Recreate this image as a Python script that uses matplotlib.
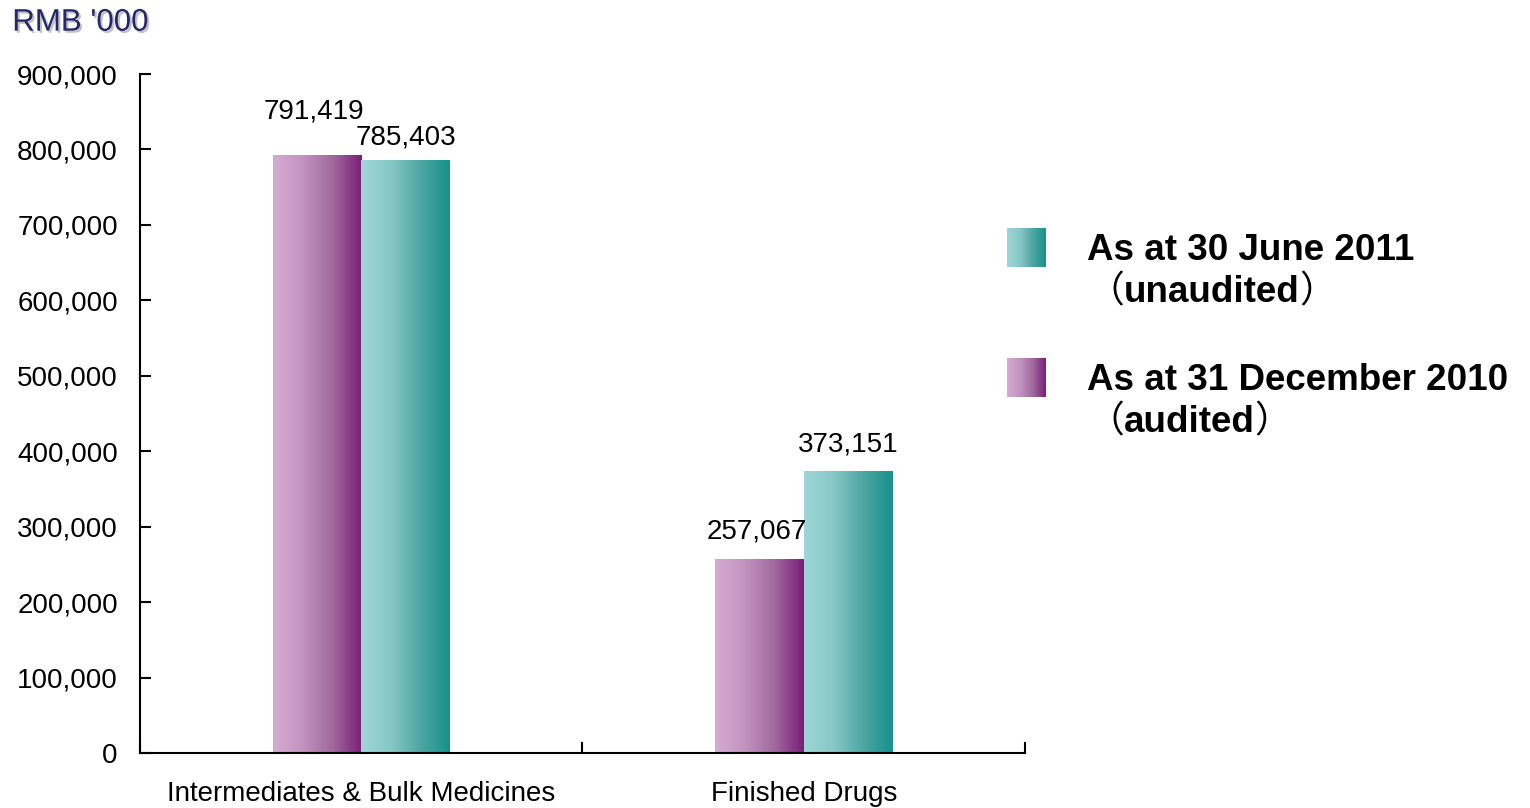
import numpy as np
import matplotlib
matplotlib.use('Agg')
import matplotlib.pyplot as plt
import matplotlib.patheffects as pe
from matplotlib.colors import LinearSegmentedColormap

plt.rcParams['font.family'] = ['Liberation Sans', 'Noto Sans CJK SC', 'DejaVu Sans']

categories = ['Intermediates & Bulk Medicines', 'Finished Drugs']
dec_2010 = [791419, 257067]
jun_2011 = [785403, 373151]
series_names = ['As at 30 June 2011', 'As at 31 December 2010']
series_notes = ['unaudited', 'audited']
y_ticks = [0, 100000, 200000, 300000, 400000, 500000, 600000, 700000, 800000, 900000]

purple = LinearSegmentedColormap.from_list('purple', ['#d5acd1', '#c393c0', '#a06a9e', '#7a1f77'])
teal = LinearSegmentedColormap.from_list('teal', ['#9fd6d8', '#88c8c7', '#4ea6a3', '#17918c'])

fig = plt.figure(figsize=(15.3, 8.08), dpi=100)
ax = fig.add_axes([0.0915, 0.0681, 0.5784, 0.8403])

width = 0.2
x = np.arange(len(categories))
grad = np.linspace(0, 1, 256).reshape(1, -1)


def gradient_bar(ax, x0, h, cmap):
    ax.imshow(grad, extent=[x0, x0 + width, 0, h], aspect='auto', cmap=cmap,
              origin='lower', interpolation='bilinear', zorder=2)


for i in range(len(categories)):
    gradient_bar(ax, x[i] - width, dec_2010[i], purple)
    gradient_bar(ax, x[i], jun_2011[i], teal)

# value labels, nudged so the first pair does not collide
lift_dec = [27, 15]
lift_jun = [11.5, 14.5]
for i in range(len(categories)):
    ax.annotate(f'{dec_2010[i]:,}', (x[i] - width / 2, dec_2010[i]),
                xytext=(-2, lift_dec[i]), textcoords='offset points',
                ha='center', va='baseline', fontsize=20)
    ax.annotate(f'{jun_2011[i]:,}', (x[i] + width / 2, jun_2011[i]),
                xytext=(0, lift_jun[i]), textcoords='offset points',
                ha='center', va='baseline', fontsize=20)

ax.set_xlim(-0.5, 1.5)
ax.set_ylim(0, 900000)
ax.set_yticks(y_ticks)
ax.set_yticklabels([f'{v:,}' for v in y_ticks], fontsize=20)
ax.set_xticks(x)
ax.set_xticklabels(categories, fontsize=20)
ax.set_xticks([-0.5, 0.5, 1.5], minor=True)
ax.tick_params(axis='x', which='major', length=0, pad=20)
ax.tick_params(axis='x', which='minor', direction='in', length=8, width=1.5)
ax.tick_params(axis='y', direction='in', length=8, width=1.5, pad=16)
for side in ['top', 'right']:
    ax.spines[side].set_visible(False)
for side in ['left', 'bottom']:
    ax.spines[side].set_linewidth(1.5)

fig.text(0.008, 0.962, "RMB '000", fontsize=22.5, color='#26266a',
         path_effects=[pe.SimplePatchShadow(offset=(1.5, -1.5), shadow_rgbFace='#9a9a9a', alpha=0.6),
                       pe.Normal()])

# legend drawn by hand: gradient squares with two-line captions
leg = fig.add_axes([0, 0, 1, 1], facecolor='none')
leg.set_xlim(0, 1530)
leg.set_ylim(808, 0)
leg.axis('off')
swatch_top = [228, 358]
swatch_cmaps = [teal, purple]
for k in range(2):
    top = swatch_top[k]
    leg.imshow(np.linspace(0.3, 1, 256).reshape(1, -1), extent=[1007, 1046, top + 39, top],
               aspect='auto', cmap=swatch_cmaps[k], interpolation='bilinear')
    leg.text(1087, top + 32, series_names[k], fontsize=26.5, fontweight='bold', va='baseline')
    # thin full-width brackets around the bold note
    p_open = leg.text(1087, top + 74, '（', fontsize=26.5, va='baseline')
    note = leg.annotate(series_notes[k], xy=(1, 0), xycoords=p_open, xytext=(0, 0),
                        textcoords='offset points', fontsize=26.5, fontweight='bold',
                        va='bottom', ha='left')
    leg.annotate('）', xy=(1, 0), xycoords=note, xytext=(0, 0), textcoords='offset points',
                 fontsize=26.5, va='bottom', ha='left')
leg.set_xlim(0, 1530)
leg.set_ylim(808, 0)

fig.savefig('out.png', dpi=100)
